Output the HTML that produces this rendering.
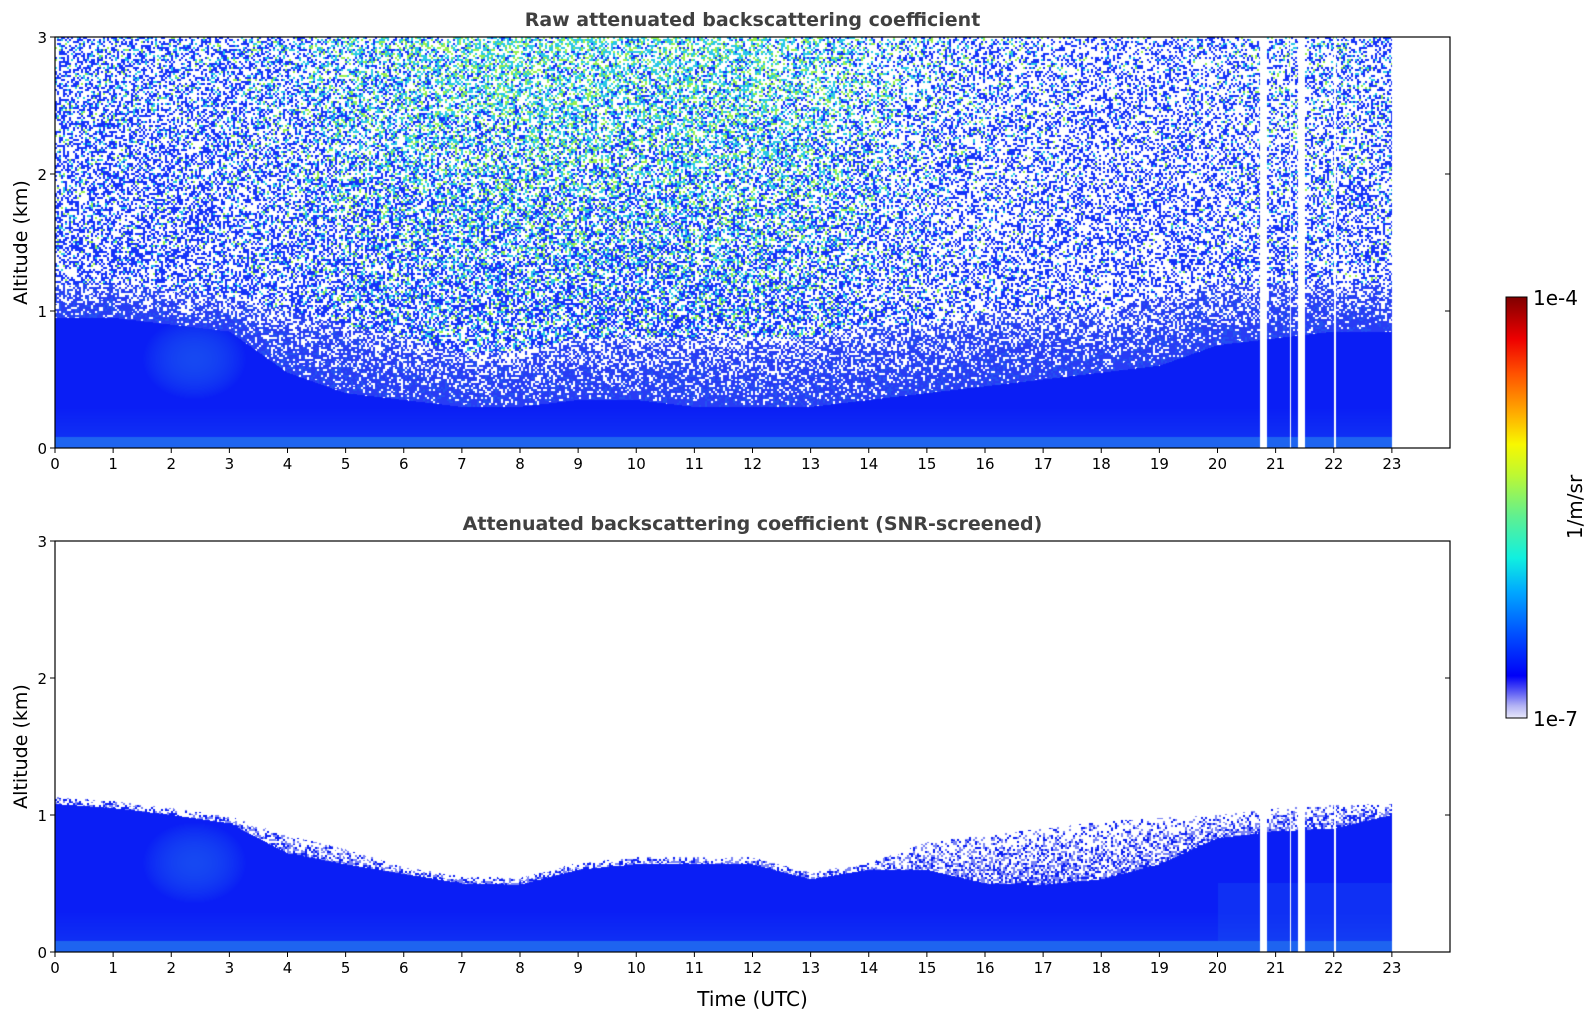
<!DOCTYPE html>
<html><head><meta charset="utf-8">
<style>
body{margin:0;background:#fff;width:1595px;height:1020px;overflow:hidden;font-family:"DejaVu Sans","Liberation Sans",sans-serif;}
#wrap{position:relative;width:1595px;height:1020px;}
canvas{position:absolute;}
svg{position:absolute;left:0;top:0;}
</style></head><body>
<div id="wrap">
<canvas id="c1" width="1395" height="411" style="left:55px;top:37px"></canvas>
<canvas id="c2" width="1395" height="411" style="left:55px;top:541px"></canvas>
<svg id="ov" width="1595" height="1020"></svg>
</div>
<script>
// ---- data (per-hour values at hour boundaries 0..23) ----
const hours=[0,1,2,3,4,5,6,7,8,9,10,11,12,13,14,15,16,17,18,19,20,21,22,23];
const snrLayerTop=[1.08,1.05,1.0,0.94,0.72,0.64,0.57,0.5,0.49,0.6,0.64,0.64,0.64,0.53,0.6,0.6,0.5,0.49,0.53,0.64,0.83,0.88,0.9,1.0];
const snrHazeTop=[1.13,1.1,1.05,0.99,0.85,0.75,0.62,0.55,0.54,0.65,0.69,0.69,0.69,0.58,0.65,0.8,0.85,0.9,0.95,0.98,1.0,1.05,1.08,1.08];
const rawDenseTop=[0.95,0.95,0.9,0.85,0.55,0.4,0.35,0.3,0.3,0.35,0.35,0.3,0.3,0.3,0.35,0.4,0.45,0.5,0.55,0.6,0.75,0.8,0.85,0.85];
const rawMidTop=[1.2,1.2,1.15,1.1,1.0,0.9,0.8,0.7,0.7,0.8,0.8,0.8,0.8,0.8,0.9,0.9,1.0,1.0,1.0,1.1,1.2,1.2,1.2,1.2];
const upperTint=[0.25,0.25,0.25,0.3,0.4,0.6,0.7,0.8,0.85,0.85,0.8,0.85,0.85,0.8,0.6,0.4,0.3,0.2,0.15,0.15,0.2,0.3,0.3,0.3];
const upperWhite=[0.5,0.5,0.5,0.5,0.5,0.45,0.4,0.4,0.4,0.4,0.4,0.4,0.4,0.45,0.5,0.55,0.6,0.6,0.6,0.6,0.6,0.55,0.55,0.55];
const dataEnd=23;
const gapStarts=[20.73,21.24,21.38,22.01];
const gapEnds=[20.85,21.27,21.5,22.04];
const xTicks=[0,1,2,3,4,5,6,7,8,9,10,11,12,13,14,15,16,17,18,19,20,21,22,23];
const yTicks=[0,1,2,3];

const X0=55,X1=1450,XMAX=24;
const xs=t=>X0+t/XMAX*(X1-X0);
function interp(arr,t){let i=Math.floor(t);if(i<0)return arr[0];if(i>=arr.length-1)return arr[arr.length-1];const f=t-i;return arr[i]*(1-f)+arr[i+1]*f;}
function inGap(t){if(t>dataEnd)return true;for(let i=0;i<gapStarts.length;i++)if(t>=gapStarts[i]&&t<=gapEnds[i])return true;return false;}
function lerp(a,b,f){return [a[0]+(b[0]-a[0])*f,a[1]+(b[1]-a[1])*f,a[2]+(b[2]-a[2])*f];}
function hash(a,b){let h=(a*374761393+b*668265263)|0;h=(h^(h>>>13))*1274126177|0;h=h^(h>>>16);return ((h>>>0)%10000)/10000;}
const BLUE=[10,30,245],LBLUE=[30,100,240],MID=[40,60,245],UPB=[20,50,250],UPC=[40,200,230],UPG=[150,240,80],WHITE=[255,255,255];
function blob(t,alt){const dx=(t-2.4)/0.9,dy=(alt-0.65)/0.3;return Math.max(0,1-(dx*dx+dy*dy));}
function ground(alt){return Math.max(0,1-alt/0.3)*0.35;}

function drawRaw(){
 const c=document.getElementById('c1'),ctx=c.getContext('2d');const W=c.width,H=c.height;
 const img=ctx.createImageData(W,H);
 for(let px=0;px<W;px++){
  const t=(px+0.5)/(X1-X0)*XMAX;const gap=inGap(t);
  const dT=interp(rawDenseTop,t),mT=interp(rawMidTop,t),tint=interp(upperTint,t),uw=interp(upperWhite,t);
  for(let py=0;py<H;py++){
   const alt=3*(1-(py+0.5)/H);let col;
   const r=hash(px>>1,py>>1),r2=hash((py>>1)+7,(px>>1)+3);
   if(gap)col=WHITE;
   else if(alt<0.08)col=LBLUE;
   else if(alt<dT){col=lerp(BLUE,LBLUE,0.6*blob(t,alt)+ground(alt));}
   else if(alt<mT){const f=(alt-dT)/Math.max(0.05,mT-dT);col=r<0.1+0.45*f?WHITE:(r2<0.3?lerp(MID,LBLUE,0.5):MID);}
   else{const af=Math.min(1,Math.max(0,(alt-1.1)/1.9));
    if(r<uw+0.05*af)col=WHITE;
    else{const p=r2;const ct=tint*(0.4+0.6*af);
     if(p<1-ct)col=UPB;else if(p<1-ct*0.35)col=UPC;else col=UPG;}}
   const k=(py*W+px)*4;img.data[k]=col[0];img.data[k+1]=col[1];img.data[k+2]=col[2];img.data[k+3]=255;
  }
 }
 ctx.putImageData(img,0,0);
}
function drawSnr(){
 const c=document.getElementById('c2'),ctx=c.getContext('2d');const W=c.width,H=c.height;
 const img=ctx.createImageData(W,H);
 for(let px=0;px<W;px++){
  const t=(px+0.5)/(X1-X0)*XMAX;const gap=inGap(t);
  const lT=interp(snrLayerTop,t),hT=interp(snrHazeTop,t);
  for(let py=0;py<H;py++){
   const alt=3*(1-(py+0.5)/H);let col;
   const r=hash(px>>1,py>>1);
   if(gap)col=WHITE;
   else if(alt<0.08)col=LBLUE;
   else if(alt<lT){col=lerp(BLUE,LBLUE,0.6*blob(t,alt)+ground(alt)); if(t>20&&alt<0.5)col=lerp(col,LBLUE,0.25);}
   else if(alt<hT){const f=(alt-lT)/Math.max(0.02,hT-lT);col=r<0.3+0.5*f?WHITE:(r<0.7+0.2*f?[120,130,245]:BLUE);}
   else col=WHITE;
   const k=(py*W+px)*4;img.data[k]=col[0];img.data[k+1]=col[1];img.data[k+2]=col[2];img.data[k+3]=255;
  }
 }
 ctx.putImageData(img,0,0);
}
drawRaw();drawSnr();

const NS='http://www.w3.org/2000/svg';const ov=document.getElementById('ov');
function el(tag,attrs,txt){const e=document.createElementNS(NS,tag);for(const k in attrs)e.setAttribute(k,attrs[k]);if(txt!==undefined)e.textContent=txt;ov.appendChild(e);return e;}
function panel(top,bot,title,showXLabel,pname){
 const ys=a=>bot-a/3*(bot-top);
 let e=el('rect',{x:X0,y:top,width:X1-X0,height:bot-top,fill:'none',stroke:'#000','stroke-width':1.2});
 
 
 xTicks.forEach(v=>{
  const x=xs(v);
  const tk=el('line',{x1:x,x2:x,y1:bot,y2:bot+5,stroke:'#000'});
  
  
  const tx=el('text',{x:x,y:bot+21,'font-size':15,'text-anchor':'middle',fill:'#000'},String(v));
  
  
 });
 yTicks.forEach(v=>{
  const y=ys(v);
  const a=el('line',{x1:X0,x2:X0-5,y1:y,y2:y,stroke:'#000'});
  
  
  const b=el('line',{x1:X1,x2:X1-5,y1:y,y2:y,stroke:'#000'});
  
  
  const tx=el('text',{x:X0-8,y:y+6,'font-size':15,'text-anchor':'end',fill:'#000'},String(v));
  
  
 });
 const yl=el('text',{x:0,y:0,'font-size':19,'text-anchor':'middle',fill:'#000',transform:`translate(27,${(top+bot)/2}) rotate(-90)`},'Altitude (km)');
 
 
 const tt=el('text',{x:(X0+X1)/2,y:top-11,'font-size':19,'font-weight':'bold','text-anchor':'middle',fill:'#404040'},title);
 
 
 if(showXLabel){const xl=el('text',{x:(X0+X1)/2,y:bot+54,'font-size':20,'text-anchor':'middle',fill:'#000'},'Time (UTC)');
  
  }
}
panel(37,448,'Raw attenuated backscattering coefficient',false,'top-panel');
panel(541,952,'Attenuated backscattering coefficient (SNR-screened)',true,'bottom-panel');

// colorbar
const cbStops=[[0,'#e8e8fa'],[0.03,'#b0b0f4'],[0.06,'#6060f4'],[0.1,'#0000f8'],[0.2,'#0050ff'],[0.3,'#00a8ff'],[0.38,'#10f0e0'],[0.48,'#60f090'],[0.58,'#c0f830'],[0.65,'#f8f800'],[0.72,'#ffb000'],[0.82,'#ff5000'],[0.9,'#ee0000'],[1,'#800000']];
const defs=el('defs',{});const lg=document.createElementNS(NS,'linearGradient');lg.setAttribute('id','cbg');lg.setAttribute('x1',0);lg.setAttribute('y1',1);lg.setAttribute('x2',0);lg.setAttribute('y2',0);defs.appendChild(lg);
cbStops.forEach(s=>{const st=document.createElementNS(NS,'stop');st.setAttribute('offset',s[0]);st.setAttribute('stop-color',s[1]);lg.appendChild(st);});
const cb=el('rect',{x:1506,y:297,width:21,height:421,fill:'url(#cbg)',stroke:'#000','stroke-width':1});


const c1=el('text',{x:1533,y:305,'font-size':20,fill:'#000'},'1e-4');


const c2=el('text',{x:1533,y:726,'font-size':20,fill:'#000'},'1e-7');


const cu=el('text',{x:0,y:0,'font-size':20,'text-anchor':'middle',fill:'#000',transform:'translate(1582,507) rotate(-90)'},'1/m/sr');


</script>
</body></html>
